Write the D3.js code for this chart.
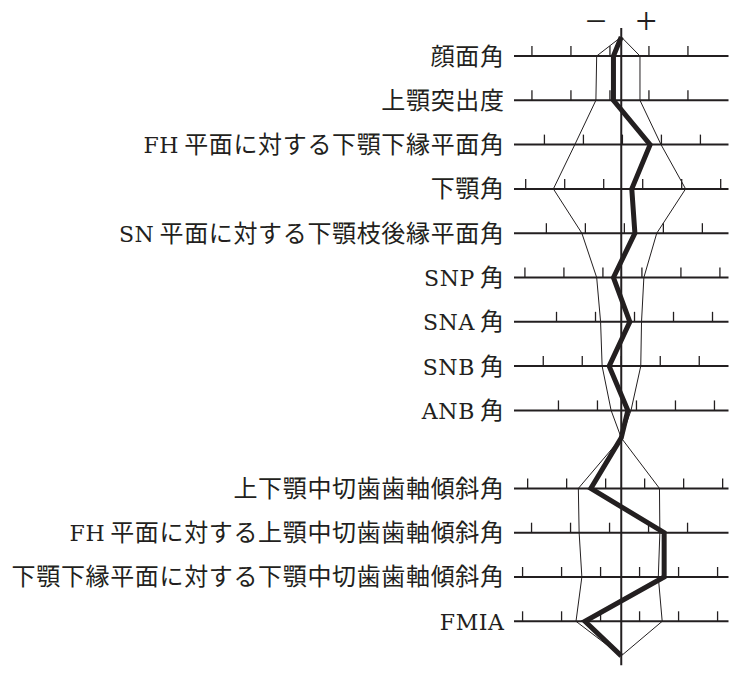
<!DOCTYPE html>
<html>
<head>
<meta charset="utf-8">
<script src="https://cdn.jsdelivr.net/npm/d3@7"></script>
<style>
  body { margin: 0; background: #fff; }
</style>
</head>
<body>
<svg></svg>
<script>
var width = 741;
var height = 680;

// 骨格系 (values in tick units, 0 = mean)
var skeletalLabels = ["顔面角", "上顎突出度", "FH 平面に対する下顎下縁平面角", "下顎角",
  "SN 平面に対する下顎枝後縁平面角", "SNP 角", "SNA 角", "SNB 角", "ANB 角"];
var skeletalLower   = [-0.63, -0.65, -1.19, -1.74, -1.01, -0.63, -0.53, -0.49, -0.26];
var skeletalUpper   = [ 0.48,  0.48,  1.02,  1.65,  0.91,  0.58,  0.52,  0.50,  0.25];
var skeletalPatient = [-0.20, -0.20,  0.74,  0.27,  0.35, -0.20,  0.22, -0.31,  0.17];
var skeletalTickStart = [-2.29, -2.29, -1.97, -2.45, -1.92, -2.47, -1.66, -2.00, -1.61];
var skeletalTickCount = [5, 5, 5, 6, 5, 6, 5, 5, 5];

// 歯系
var dentalLabels = ["上下顎中切歯歯軸傾斜角", "FH 平面に対する上顎中切歯歯軸傾斜角",
  "下顎下縁平面に対する下顎中切歯歯軸傾斜角", "FMIA"];
var dentalLower   = [-1.10, -1.08, -1.01, -1.16];
var dentalUpper   = [ 0.98,  0.99,  0.95,  1.05];
var dentalPatient = [-0.78,  1.10,  1.10, -0.93];
var dentalTickStart = [-2.40, -2.30, -2.53, -2.53];
var dentalTickCount = [6, 5, 6, 6];

var ink = "#231f20";

var svg = d3.select("svg")
  .attr("width", width)
  .attr("height", height);

svg.append("rect").attr("width", width).attr("height", height).attr("fill", "#fff");

// row slots: skeletal rows 0..8, dental rows after a gap
var dentalOffset = 9.76;
var topSlot = -0.43, junctionSlot = 8.62, bottomSlot = 13.54;

var rows = skeletalLabels.map((l, i) => ({
  label: l, lo: skeletalLower[i], hi: skeletalUpper[i], pt: skeletalPatient[i],
  t0: skeletalTickStart[i], tn: skeletalTickCount[i], slot: i
})).concat(dentalLabels.map((l, j) => ({
  label: l, lo: dentalLower[j], hi: dentalUpper[j], pt: dentalPatient[j],
  t0: dentalTickStart[j], tn: dentalTickCount[j], slot: dentalOffset + j
})));

var x = d3.scaleLinear().domain([-2.75, 2.75]).range([514, 728.5]);
var y = d3.scaleLinear().domain([0, 12.76]).range([56, 621.3]);

// horizontal row lines
svg.selectAll("line.row")
  .data(rows)
  .enter()
  .append("line")
    .attr("class", "row")
    .attr("x1", x(-2.75)).attr("x2", x(2.75))
    .attr("y1", d => y(d.slot)).attr("y2", d => y(d.slot))
    .attr("stroke", ink).attr("stroke-width", 2);

// ticks
var ticks = [];
rows.forEach(r => d3.range(r.tn).forEach(k => ticks.push({ v: r.t0 + k, slot: r.slot })));
svg.selectAll("line.tick")
  .data(ticks)
  .enter()
  .append("line")
    .attr("class", "tick")
    .attr("x1", d => x(d.v)).attr("x2", d => x(d.v))
    .attr("y1", d => y(d.slot)).attr("y2", d => y(d.slot) - 10)
    .attr("stroke", ink).attr("stroke-width", 1.3);

// center (mean) line
svg.append("line")
  .attr("x1", x(0)).attr("x2", x(0))
  .attr("y1", y(-0.63)).attr("y2", y(13.75))
  .attr("stroke", ink).attr("stroke-width", 2);

function profile(key) {
  var g1 = rows.filter(r => r.slot < dentalOffset).map(r => [r[key], r.slot]);
  var g2 = rows.filter(r => r.slot >= dentalOffset).map(r => [r[key], r.slot]);
  return [[0, topSlot]].concat(g1, [[0, junctionSlot]], g2, [[0, bottomSlot]]);
}

var line = d3.line().x(d => x(d[0])).y(d => y(d[1]));

// mean ± SD
["lo", "hi"].forEach(k => {
  svg.append("path")
    .attr("d", line(profile(k)))
    .attr("fill", "none")
    .attr("stroke", ink)
    .attr("stroke-width", 1);
});

// patient
svg.append("path")
  .attr("d", line(profile("pt")))
  .attr("fill", "none")
  .attr("stroke", ink)
  .attr("stroke-width", 5)
  .attr("stroke-linejoin", "miter");

// labels: latin prefix in a wide serif, the rest in CJK
var labels = svg.selectAll("text.label")
  .data(rows)
  .enter()
  .append("text")
    .attr("class", "label")
    .attr("x", 504.6)
    .attr("y", d => y(d.slot) + 8.5)
    .attr("text-anchor", "end")
    .attr("fill", ink);

labels.each(function(d) {
  var m = d.label.match(/^([A-Z]+)\s?(.*)$/);
  var t = d3.select(this);
  if (m) {
    t.append("tspan")
      .attr("font-family", "'DejaVu Serif', serif")
      .attr("font-size", 22)
      .attr("letter-spacing", 0.6)
      .text(m[1]);
  }
  var rest = m ? m[2] : d.label;
  if (rest) {
    t.append("tspan")
      .attr("dx", m ? 5 : 0)
      .attr("font-family", "'Noto Sans CJK JP', sans-serif")
      .attr("font-size", 24)
      .attr("letter-spacing", 0.65)
      .text(rest);
  }
});

// − / + signs
svg.selectAll("text.sign")
  .data([{ s: "−", v: -0.65 }, { s: "+", v: 0.64 }])
  .enter()
  .append("text")
    .attr("class", "sign")
    .attr("x", d => x(d.v))
    .attr("y", 34)
    .attr("text-anchor", "middle")
    .attr("font-family", "'Liberation Serif', serif")
    .attr("font-size", 38)
    .attr("fill", ink)
    .text(d => d.s);
</script>
</body>
</html>
